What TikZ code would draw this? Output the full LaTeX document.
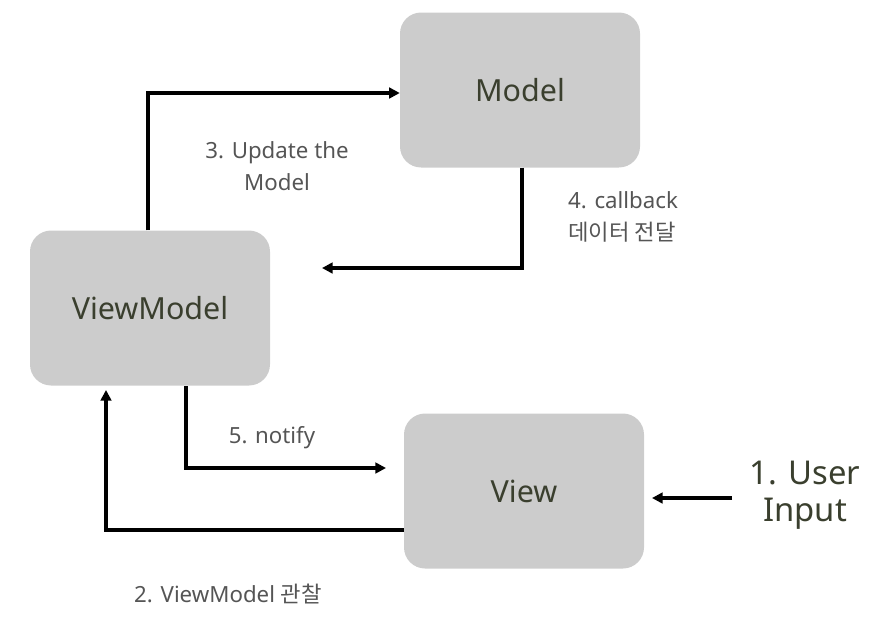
\documentclass[tikz,border=0pt]{standalone}
\usepackage{fontspec}
\setmainfont{Noto Sans}
\newfontfamily\kr{Noto Sans CJK KR}
\usetikzlibrary{arrows.meta}
\definecolor{boxgray}{HTML}{CCCCCC}
\definecolor{olive}{HTML}{3A3F2E}
\definecolor{txtgray}{HTML}{555555}
\tikzset{
  box/.style={draw=none, fill=boxgray, rounded corners=18pt, minimum width=240*0.03cm,
    minimum height=155*0.03cm, font=\fontsize{26}{30}\selectfont\bfseries, text=olive},
  lbl/.style={font=\fontsize{19}{27}\selectfont, text=txtgray, align=center},
  flow/.style={line width=2.6pt, -{Triangle[length=9pt,width=9pt]}}
}
\begin{document}
\begin{tikzpicture}[x=0.03cm,y=-0.03cm]
\useasboundingbox (0,0) rectangle (878,636);
\node[box] (model) at (520,90) {Model};
\node[box] (vm) at (150,308) {ViewModel};
\node[box] (view) at (524,491) {View};
\node[font=\fontsize{28}{32}\selectfont\bfseries, text=olive, align=center] (user) at (805,495) {1. User\\Input};
\coordinate (uin) at (732,498);
\coordinate (uout) at (652,498);
\coordinate (cbend) at (322,268);
\coordinate (nstart) at (186,386);
\coordinate (nend) at (386,468);
\coordinate (ostart) at (404,530);
\coordinate (oend) at (106,390);
\draw[flow] (vm.north -| 148,0) |- (model.west |- 0,93);
\draw[flow] (model.south -| 522,0) |- (cbend);
\draw[flow] (nstart) |- (nend);
\draw[flow] (ostart) -| (oend);
\draw[flow] (uin) -- (uout);
\node[lbl] (l3) at (277,166) {3. Update the\\Model};
\node[lbl, align=left, anchor=west] (l4) at (564,217) {4. callback\\{\kr 데이터 전달}};
\node[lbl] (l5) at (272,438) {5. notify};
\node[lbl] (l2) at (228,594) {2. ViewModel {\kr 관찰}};
\end{tikzpicture}
\end{document}
